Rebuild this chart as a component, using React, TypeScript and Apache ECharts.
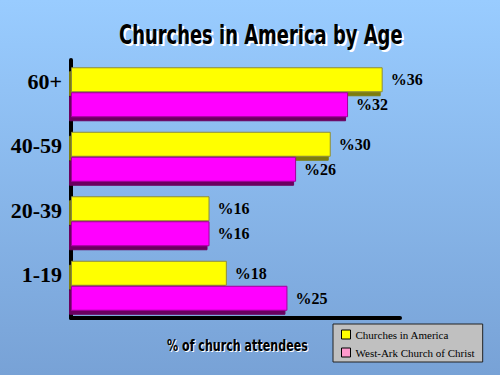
import React, { useEffect, useRef } from "react";
import * as echarts from "echarts";

const categories = ["60+", "40-59", "20-39", "1-19"];
const americaValues = [36, 30, 16, 18];
const westArkValues = [32, 26, 16, 25];
const seriesNames = ["Churches in America", "West-Ark Church of Christ"];
const titleText = "Churches in America by Age";
const xAxisTitle = "% of church attendees";

function measure(text: string, font: string): number {
  const c = document.createElement("canvas");
  const ctx = c.getContext("2d");
  if (!ctx) return text.length * 10;
  ctx.font = font;
  return ctx.measureText(text).width;
}

function shadowedText(text: string, x: number, y: number, font: string, targetWidth: number, shadow: number) {
  const w = measure(text, font);
  const sx = targetWidth / w;
  const mk = (dx: number, dy: number, fill: string) => ({
    type: "text",
    x: x + dx,
    y: y + dy,
    scaleX: sx,
    silent: true,
    style: { text, font, fill, textAlign: "left", textVerticalAlign: "top" },
  });
  return [mk(shadow, shadow, "#ffffff"), mk(0, 0, "#000000")];
}

export default function App() {
  const ref = useRef<HTMLDivElement>(null);
  useEffect(() => {
    if (!ref.current) return;
    const chart = echarts.init(ref.current, undefined, { renderer: "svg" });
    const labelStyle = {
      show: true,
      position: "right" as const,
      distance: 8,
      formatter: (p: any) => "%" + p.value,
      fontFamily: "Liberation Serif",
      fontWeight: "bold" as const,
      fontSize: 16,
      color: "#000",
    };
    const titleFont = "bold 27px 'DejaVu Sans'";
    const nameFont = "bold 15px 'DejaVu Sans'";
    chart.setOption({
      animation: false,
      backgroundColor: {
        type: "linear",
        x: 0,
        y: 0,
        x2: 0,
        y2: 1,
        colorStops: [
          { offset: 0, color: "#99ccff" },
          { offset: 1, color: "#78a2d6" },
        ],
      },
      graphic: [
        ...shadowedText(titleText, 119, 21, titleFont, 284, 2),
        ...shadowedText(xAxisTitle, 167, 338, nameFont, 141, 1),
      ],
      legend: {
        orient: "vertical",
        left: 333,
        top: 324,
        width: 147,
        backgroundColor: "#c0c0c0",
        borderColor: "#222",
        borderWidth: 1,
        padding: [5, 8, 4, 8],
        itemWidth: 9,
        itemHeight: 9,
        itemGap: 7,
        icon: "rect",
        textStyle: { fontFamily: "Liberation Serif", fontSize: 11, color: "#000" },
        data: [
          { name: seriesNames[0], itemStyle: { color: "#ffff00", borderColor: "#000", borderWidth: 1 } },
          { name: seriesNames[1], itemStyle: { color: "#ff99cc", borderColor: "#000", borderWidth: 1 } },
        ],
      },
      grid: { left: 71, right: 100, top: 60, bottom: 57 },
      xAxis: {
        type: "value",
        min: 0,
        max: 38,
        axisLine: { show: true, lineStyle: { color: "#000", width: 4 } },
        axisTick: { show: false },
        axisLabel: { show: false },
        splitLine: { show: false },
      },
      yAxis: {
        type: "category",
        inverse: true,
        data: categories,
        axisLine: { show: true, lineStyle: { color: "#000", width: 4 } },
        axisTick: { show: false },
        axisLabel: {
          fontFamily: "Liberation Serif",
          fontWeight: "bold",
          fontSize: 22,
          color: "#000",
          margin: 9,
          verticalAlign: "bottom",
        },
      },
      series: [
        {
          name: seriesNames[0],
          type: "bar",
          data: americaValues,
          barWidth: 25,
          barGap: "0%",
          itemStyle: {
            color: "#ffff00",
            borderColor: "#8c8c3c",
            borderWidth: 1,
            shadowColor: "#7d7d10",
            shadowOffsetX: -2,
            shadowOffsetY: 4,
            shadowBlur: 0,
          },
          label: labelStyle,
        },
        {
          name: seriesNames[1],
          type: "bar",
          data: westArkValues,
          barWidth: 25,
          itemStyle: {
            color: "#ff00ff",
            borderColor: "#a0009a",
            borderWidth: 1,
            shadowColor: "#6a0060",
            shadowOffsetX: -2,
            shadowOffsetY: 4,
            shadowBlur: 0,
          },
          label: labelStyle,
        },
      ],
    });
    return () => chart.dispose();
  }, []);
  return (
    <div
      ref={ref}
      style={{ position: "fixed", left: 0, top: 0, width: 500, height: 375 }}
    />
  );
}
